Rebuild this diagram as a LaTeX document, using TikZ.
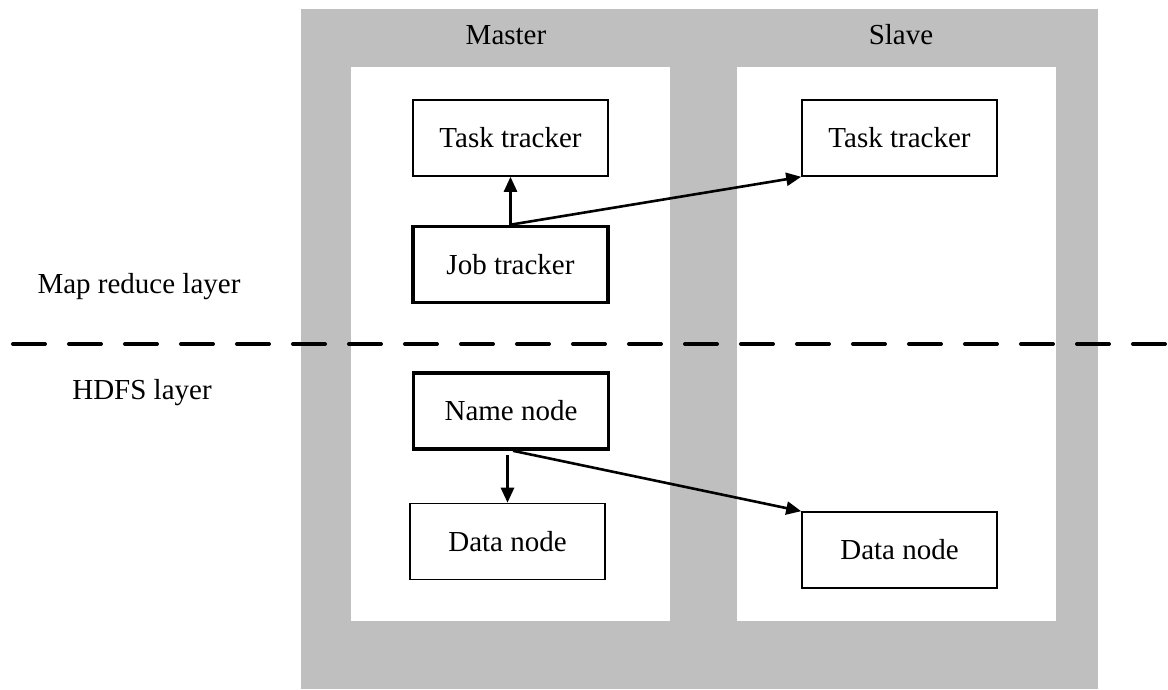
\documentclass[tikz,border=0pt]{standalone}
\usepackage{fontspec}
\setmainfont{Liberation Serif}
\usetikzlibrary{arrows.meta}
\definecolor{panelgray}{RGB}{191,191,191}
\tikzset{
  lbl/.style={font=\fontsize{29}{34}\selectfont, inner sep=0pt, anchor=base},
  box/.style={draw=black, line width=1.6pt, fill=white, rectangle, inner sep=0pt,
    minimum width=195pt, minimum height=76pt, text height=19.5pt, text depth=0pt,
    font=\fontsize{29}{34}\selectfont},
  mainbox/.style={box, line width=3.6pt},
  conn/.style={line width=2.6pt, -{Triangle[length=15pt,width=13pt]}},
  dashline/.style={line width=4pt, line cap=round, dash pattern=on 32pt off 24pt}
}
\begin{document}
\begin{tikzpicture}[x=1pt,y=-1pt]
\useasboundingbox (0,0) rectangle (1168,689);
% panels
\fill[panelgray] (301,9) rectangle (1098,689);
\fill[white] (351,67) rectangle (670,621);
\fill[white] (737,67) rectangle (1056,621);
% headings
\node[lbl] (master) at (506,44) {Master};
\node[lbl] (slave) at (901,44) {Slave};
\node[lbl] (mrl) at (139,293) {Map reduce layer};
\node[lbl] (hdfs) at (142,399) {HDFS layer};
% dashed separator
\coordinate (dl) at (13,344);
\coordinate (dr) at (1175,344);
\draw[dashline] (dl) -- (dr);
% boxes
\node[box] (ttm) at (510.5,138) {Task tracker};
\node[mainbox] (jt) at (510.5,264.5) {Job tracker};
\node[box] (tts) at (899.5,138) {Task tracker};
\node[mainbox] (nn) at (511,411) {Name node};
\node[box] (dnm) at (507.5,541.5) {Data node};
\node[box] (dns) at (899.5,550) {Data node};
% connectors
\draw[conn] (jt.north) -- (ttm.south);
\draw[conn] (jt.north) -- (tts.south west);
\draw[conn] ([yshift=-4pt]dnm.north |- nn.south) -- (dnm.north);
\draw[conn] ([xshift=2pt]nn.south) -- (dns.north west);
\end{tikzpicture}
\end{document}
